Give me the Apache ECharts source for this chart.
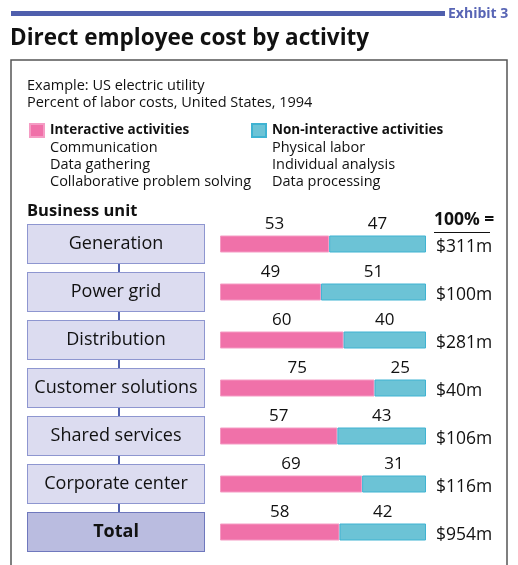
<!DOCTYPE html>
<html>
<head>
<meta charset="utf-8">
<script src="https://cdn.jsdelivr.net/npm/echarts@6/dist/echarts.min.js"></script>
<style>
	html, body { margin: 0; padding: 0; background: #fff; }
	#chart { width: 518px; height: 565px; }
</style>
</head>
<body>
<div id="chart"></div>
<script>
// 业务单元
var units = ['Generation', 'Power grid', 'Distribution', 'Customer solutions', 'Shared services', 'Corporate center', 'Total'];
// 交互 / 非交互 占比
var interactive = [53, 49, 60, 75, 57, 69, 58];
var nonInteractive = [47, 51, 40, 25, 43, 31, 42];
// 100% =
var totals = ['$311m', '$100m', '$281m', '$40m', '$106m', '$116m', '$954m'];
var interactiveItems = ['Communication', 'Data gathering', 'Collaborative problem solving'];
var nonInteractiveItems = ['Physical labor', 'Individual analysis', 'Data processing'];

var FONT = '"Open Sans", "Noto Sans", sans-serif';
var BLUE = '#4f5fad';
var PINK = '#f071a9';
var CYAN = '#6cc3d6';

var chart = echarts.init(document.getElementById('chart'), null, { renderer: 'canvas' });

function legendOf(name, left) {
	return {
		data: [{ name: name, icon: 'rect' }],
		left: left, top: 123,
		padding: 0,
		itemWidth: 14, itemHeight: 13, itemGap: 0,
		selectedMode: false,
		textStyle: { fontFamily: FONT, fontWeight: 'bold', fontSize: 13.5, color: '#111', padding: [0, 0, 0, 1] }
	};
}

var option = {
	backgroundColor: '#fff',
	textStyle: { fontFamily: FONT, color: '#111' },
	animation: false,
	legend: [
		legendOf('Interactive activities', 29),
		legendOf('Non-interactive activities', 251)
	],
	grid: { left: 220, right: 92, top: 220, height: 336, containLabel: false },
	xAxis: { type: 'value', min: 0, max: 100, show: false },
	yAxis: [
		{
			type: 'category',
			data: units,
			inverse: true,
			axisLine: { show: false },
			axisTick: { show: false },
			axisLabel: {
				margin: 104,
				align: 'center',
				formatter: function (v) {
					return v == 'Total' ? '{t|' + v + '}' : '{b|' + v + '}';
				},
				rich: {
					b: {
						width: 176, height: 38, lineHeight: 38, align: 'center',
						fontSize: 18, fontFamily: FONT, color: '#111',
						backgroundColor: '#dcdcf0', borderColor: '#8e96d0', borderWidth: 1
					},
					t: {
						width: 176, height: 38, lineHeight: 38, align: 'center',
						fontSize: 18, fontWeight: 'bold', fontFamily: FONT, color: '#111',
						backgroundColor: '#babce0', borderColor: '#6f78bd', borderWidth: 1
					}
				}
			}
		},
		{
			type: 'category',
			data: totals,
			inverse: true,
			position: 'right',
			axisLine: { show: false },
			axisTick: { show: false },
			axisLabel: {
				margin: 10,
				formatter: function (v) {
					return '{v|' + v + '}';
				},
				rich: {
					v: { fontSize: 17.5, fontFamily: FONT, color: '#111', padding: [6, 0, 0, 0] }
				}
			}
		}
	],
	series: [
		{
			name: 'Interactive activities',
			type: 'bar',
			stack: 'cost',
			barWidth: 17,
			data: interactive,
			itemStyle: { color: PINK, borderColor: '#f59cc4', borderWidth: 1 },
			label: { show: true, position: 'top', distance: 3, fontSize: 17, fontFamily: FONT, color: '#111' }
		},
		{
			name: 'Non-interactive activities',
			type: 'bar',
			stack: 'cost',
			barWidth: 17,
			data: nonInteractive,
			itemStyle: { color: CYAN, borderColor: '#3fb3d2', borderWidth: 1 },
			label: { show: true, position: 'top', distance: 3, fontSize: 17, fontFamily: FONT, color: '#111' }
		}
	],
	graphic: [
		// 顶部蓝线
		{ type: 'rect', shape: { x: 11, y: 11, width: 434, height: 5 }, style: { fill: BLUE } },
		{ type: 'text', left: 448, top: 7, style: { text: 'Exhibit 3', font: 'bold 14px ' + FONT, fill: '#5865b5' } },
		{ type: 'text', left: 10, top: 27, style: { text: 'Direct employee cost by activity', font: 'bold 22.5px ' + FONT, fill: '#111' } },
		// 外框
		{ type: 'rect', z: -10, shape: { x: 11, y: 60, width: 496, height: 520 }, style: { fill: 'none', stroke: '#555', lineWidth: 1.5 } },
		{ type: 'text', left: 27, top: 77, style: { text: 'Example: US electric utility\nPercent of labor costs, United States, 1994', font: '14.5px ' + FONT, fill: '#111', lineHeight: 17 } },
		{ type: 'text', left: 50, top: 139, style: { text: interactiveItems.join('\n'), font: '14.5px ' + FONT, fill: '#111', lineHeight: 17 } },
		{ type: 'text', left: 272, top: 139, style: { text: nonInteractiveItems.join('\n'), font: '14.5px ' + FONT, fill: '#111', lineHeight: 17 } },
		{ type: 'text', left: 27, top: 203, style: { text: 'Business unit', font: 'bold 16.5px ' + FONT, fill: '#111' } },
		{ type: 'text', left: 434, top: 211, style: { text: '100% =', font: 'bold 17.5px ' + FONT, fill: '#111' } },
		{ type: 'line', shape: { x1: 434, y1: 232.5, x2: 490, y2: 232.5 }, style: { stroke: '#111', lineWidth: 1 } },
		// 业务单元连接线
		{ type: 'line', z: -5, shape: { x1: 119, y1: 244, x2: 119, y2: 532 }, style: { stroke: BLUE, lineWidth: 2 } }
	]
};

chart.setOption(option);
</script>
</body>
</html>
